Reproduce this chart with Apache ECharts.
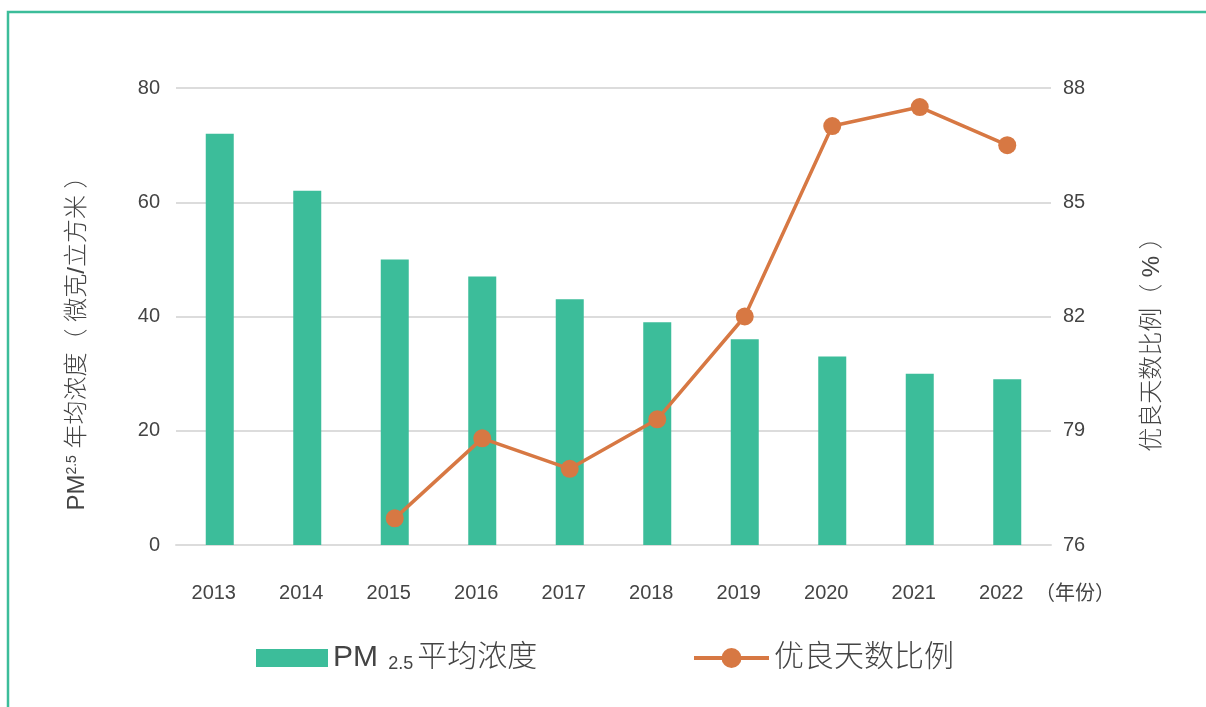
<!DOCTYPE html>
<html>
<head>
<meta charset="utf-8">
<script src="https://cdn.jsdelivr.net/npm/echarts@6/dist/echarts.min.js"></script>
<style>
  html, body { margin: 0; padding: 0; background: #fff; }
  #chart { width: 1206px; height: 707px; }
</style>
</head>
<body>
<div id="chart"></div>
<script>
// 数据
const years = ["2013", "2014", "2015", "2016", "2017", "2018", "2019", "2020", "2021", "2022"];
const pm25 = [72, 62, 50, 47, 43, 39, 36, 33, 30, 29];
const goodDays = [null, null, 76.7, 78.8, 78.0, 79.3, 82.0, 87.0, 87.5, 86.5];
const leftTicks = { min: 0, max: 80, interval: 20 };
const rightTicks = { min: 76, max: 88, interval: 3 };

const green = "#3cbd9a";
const orange = "#d77843";
const font = "'Liberation Sans', 'Noto Sans CJK SC', sans-serif";

const legendText = {
  color: "#444",
  fontSize: 30,
  fontWeight: 300,
  rich: {
    a: { fontSize: 30, fontWeight: 300, color: "#444" },
    b: { fontSize: 18, fontWeight: 300, color: "#444", verticalAlign: "bottom", padding: [0, 4, 0, 2] },
  },
};

const chart = echarts.init(document.getElementById("chart"));
chart.setOption({
  animation: false,
  textStyle: { fontFamily: font },
  graphic: [
    {
      type: "polyline",
      shape: { points: [[8, 707], [8, 12], [1206, 12]] },
      style: { stroke: green, lineWidth: 2.5, fill: null },
    },
  ],
  grid: { left: 176, right: 155, top: 88, bottom: 162 },
  legend: [
    {
      left: 251,
      top: 638,
      itemWidth: 72,
      itemHeight: 18,
      textStyle: legendText,
      formatter: function (name) {
        return "{a|PM }{b|2.5}{a|平均浓度}";
      },
      data: [{ name: "PM2.5平均浓度", icon: "rect" }],
    },
    {
      left: 687,
      top: 638,
      itemWidth: 75,
      itemHeight: 25,
      lineStyle: { width: 4 },
      textStyle: legendText,
      data: [{ name: "优良天数比例" }],
    },
  ],
  xAxis: {
    type: "category",
    data: years,
    name: "（年份）",
    nameLocation: "end",
    nameGap: -16,
    nameTextStyle: {
      color: "#444",
      fontSize: 20,
      align: "left",
      verticalAlign: "top",
      padding: [39, 0, 0, 0],
    },
    axisLine: { lineStyle: { color: "#dcdcdc", width: 2 } },
    axisTick: { show: false },
    axisLabel: { color: "#444", fontSize: 20, margin: 38, padding: [0, 12, 0, 0] },
  },
  yAxis: [
    {
      type: "value",
      min: leftTicks.min,
      max: leftTicks.max,
      interval: leftTicks.interval,
      name: "{a|PM}{s|2.5}{a| 年均浓度（ 微克/立方米 ）}",
      nameLocation: "middle",
      nameGap: 87,
      nameTextStyle: {
        color: "#444",
        fontSize: 24,
        padding: [0, 42, 0, 0],
        rich: {
          a: { fontSize: 24, fontWeight: 300, color: "#444" },
          s: { fontSize: 14, fontWeight: 300, color: "#444", verticalAlign: "top" },
        },
      },
      axisLine: { show: false },
      axisTick: { show: false },
      axisLabel: { color: "#444", fontSize: 20, margin: 16 },
      splitLine: { lineStyle: { color: "#dcdcdc", width: 2 } },
    },
    {
      type: "value",
      min: rightTicks.min,
      max: rightTicks.max,
      interval: rightTicks.interval,
      name: "优良天数比例（ % ）",
      nameLocation: "middle",
      nameGap: 89,
      nameTextStyle: { color: "#444", fontSize: 24, fontWeight: 300, padding: [0, 44, 0, 0] },
      axisLine: { show: false },
      axisTick: { show: false },
      axisLabel: { color: "#444", fontSize: 20, margin: 12 },
      splitLine: { show: false },
    },
  ],
  series: [
    {
      name: "PM2.5平均浓度",
      type: "bar",
      data: pm25,
      barWidth: 28,
      itemStyle: { color: green },
    },
    {
      name: "优良天数比例",
      type: "line",
      yAxisIndex: 1,
      data: goodDays,
      symbol: "circle",
      symbolSize: 18,
      lineStyle: { color: orange, width: 3.5 },
      itemStyle: { color: orange },
      z: 3,
    },
  ],
});
</script>
</body>
</html>
